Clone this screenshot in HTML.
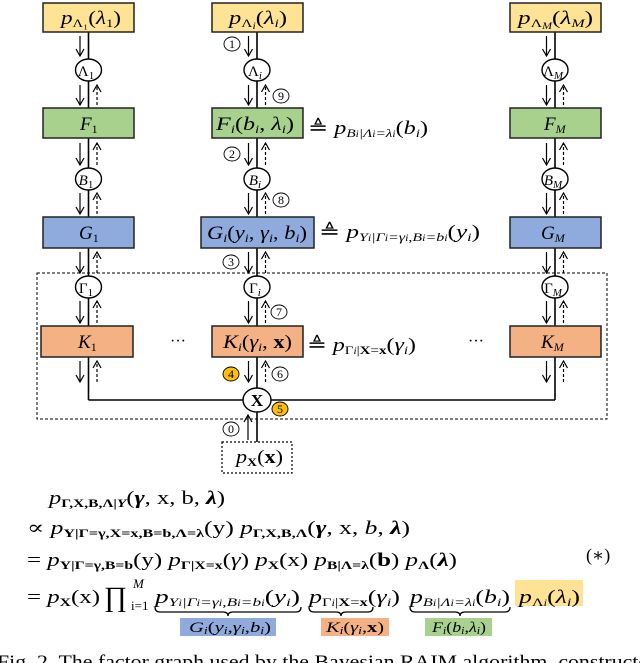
<!DOCTYPE html>
<html><head><meta charset="utf-8"><style>
html,body{margin:0;padding:0;background:#fff;}
svg{display:block;font-family:"Liberation Serif","DejaVu Serif",serif;}
.it{font-style:italic}
.b{font-weight:bold;font-style:normal}
</style></head><body>
<svg width="640" height="663" viewBox="0 0 640 663" xmlns="http://www.w3.org/2000/svg">
<defs>
<marker id="a" markerWidth="10" markerHeight="10" refX="9" refY="5" orient="auto-start-reverse" markerUnits="userSpaceOnUse" viewBox="0 0 10 10"><path d="M2,1 L9,5 L2,9" fill="none" stroke="#000" stroke-width="1.2"/></marker>
</defs>
<g stroke="#000" stroke-width="1.6" fill="none">
<line x1="88.5" y1="32" x2="88.5" y2="400"/>
<line x1="257" y1="32" x2="257" y2="442"/>
<line x1="555" y1="32" x2="555" y2="400"/>
<line x1="88.5" y1="400" x2="555" y2="400"/>
</g>
<rect x="37" y="273" width="570" height="146" fill="none" stroke="#000" stroke-width="1" stroke-dasharray="3,2"/>
<g stroke="#222" stroke-width="1.5">
<rect x="43" y="3" width="91" height="29" fill="#FFE394"/>
<rect x="212" y="3" width="91" height="29" fill="#FFE394"/>
<rect x="510" y="3" width="91" height="29" fill="#FFE394"/>
<rect x="43" y="108" width="91" height="30" fill="#A9D18E"/>
<rect x="212" y="108" width="91" height="30" fill="#A9D18E"/>
<rect x="510" y="108" width="91" height="30" fill="#A9D18E"/>
<rect x="43" y="217" width="91" height="31" fill="#8FAADC"/>
<rect x="201" y="217" width="113" height="31" fill="#8FAADC"/>
<rect x="510" y="217" width="91" height="31" fill="#8FAADC"/>
<rect x="41" y="326" width="92" height="31" fill="#F4B183"/>
<rect x="212" y="326" width="91" height="31" fill="#F4B183"/>
<rect x="510" y="326" width="91" height="31" fill="#F4B183"/>
</g>
<rect x="222" y="442" width="70" height="31" fill="#fff" stroke="#000" stroke-width="1.2" stroke-dasharray="2,2"/>
<g fill="#fff" stroke="#000" stroke-width="1.4">
<ellipse cx="88.5" cy="70" rx="13" ry="11"/><ellipse cx="257" cy="70" rx="13" ry="11"/><ellipse cx="555" cy="70" rx="13" ry="11"/>
<ellipse cx="88.5" cy="179" rx="13" ry="11"/><ellipse cx="257" cy="179" rx="13" ry="11"/><ellipse cx="555" cy="179" rx="13" ry="11"/>
<ellipse cx="88.5" cy="287" rx="13" ry="11"/><ellipse cx="257" cy="287" rx="13" ry="11"/><ellipse cx="555" cy="287" rx="13" ry="11"/>
<ellipse cx="257" cy="400" rx="14" ry="12"/>
</g>
<g stroke="#000" stroke-width="1.2" fill="none">
<g id="c1">
<line x1="80" y1="36" x2="80" y2="56" marker-end="url(#a)"/>
<line x1="80" y1="85" x2="80" y2="105" marker-end="url(#a)"/>
<line x1="97" y1="105" x2="97" y2="85" marker-end="url(#a)" stroke-dasharray="3,2"/>
<line x1="80" y1="143" x2="80" y2="165" marker-end="url(#a)"/>
<line x1="97" y1="165" x2="97" y2="143" marker-end="url(#a)" stroke-dasharray="3,2"/>
<line x1="80" y1="193" x2="80" y2="214" marker-end="url(#a)"/>
<line x1="97" y1="214" x2="97" y2="193" marker-end="url(#a)" stroke-dasharray="3,2"/>
<line x1="80" y1="252" x2="80" y2="273" marker-end="url(#a)"/>
<line x1="97" y1="273" x2="97" y2="252" marker-end="url(#a)" stroke-dasharray="3,2"/>
<line x1="80" y1="301" x2="80" y2="323" marker-end="url(#a)"/>
<line x1="97" y1="323" x2="97" y2="301" marker-end="url(#a)" stroke-dasharray="3,2"/>
<line x1="80" y1="361" x2="80" y2="382" marker-end="url(#a)"/>
<line x1="97" y1="382" x2="97" y2="361" marker-end="url(#a)" stroke-dasharray="3,2"/>
</g>
<use href="#c1" x="168.5"/>
<use href="#c1" x="466.5"/>
<line x1="248" y1="440" x2="248" y2="415" marker-end="url(#a)"/>
</g>
<g stroke="#000" stroke-width="0.9" fill="#fff">
<ellipse cx="232" cy="44" rx="8" ry="7"/><ellipse cx="281" cy="96" rx="8" ry="7"/>
<ellipse cx="232" cy="154" rx="8" ry="7"/><ellipse cx="281" cy="200" rx="8" ry="7"/>
<ellipse cx="231" cy="262" rx="8" ry="7"/><ellipse cx="279" cy="312" rx="8" ry="7"/>
<ellipse cx="231" cy="374" rx="8" ry="7" fill="#FFC000"/><ellipse cx="280" cy="374" rx="8" ry="7"/>
<ellipse cx="280" cy="409" rx="8" ry="7" fill="#FFC000"/><ellipse cx="231" cy="429" rx="8" ry="7"/>
</g>
<g font-size="12" text-anchor="middle">
<text x="232" y="48">1</text><text x="281" y="100">9</text><text x="232" y="158">2</text><text x="281" y="204">8</text>
<text x="231" y="266">3</text><text x="279" y="316">7</text><text x="231" y="378">4</text><text x="280" y="378">6</text>
<text x="280" y="413">5</text><text x="231" y="433">0</text>
</g>
<!-- node labels -->
<g font-size="19">
<text x="61" y="24" textLength="60" lengthAdjust="spacingAndGlyphs"><tspan class="it">p</tspan><tspan font-size="12" dy="3">Λ₁</tspan><tspan dy="-3">(</tspan><tspan class="it">λ</tspan><tspan font-size="12" dy="3">1</tspan><tspan dy="-3">)</tspan></text>
<text x="229" y="24" textLength="58" lengthAdjust="spacingAndGlyphs"><tspan class="it">p</tspan><tspan font-size="12" dy="3">Λ</tspan><tspan font-size="9" class="it" dy="2">i</tspan><tspan dy="-5">(</tspan><tspan class="it">λ</tspan><tspan font-size="12" class="it" dy="3">i</tspan><tspan dy="-3">)</tspan></text>
<text x="518" y="24" textLength="75" lengthAdjust="spacingAndGlyphs"><tspan class="it">p</tspan><tspan font-size="12" dy="3">Λ</tspan><tspan font-size="9" class="it" dy="2">M</tspan><tspan dy="-5">(</tspan><tspan class="it">λ</tspan><tspan font-size="12" class="it" dy="3">M</tspan><tspan dy="-3">)</tspan></text>
<text x="80" y="130"><tspan class="it">F</tspan><tspan font-size="12" dy="3">1</tspan></text>
<text x="216" y="130" textLength="78" lengthAdjust="spacingAndGlyphs"><tspan class="it">F</tspan><tspan font-size="12" class="it" dy="3">i</tspan><tspan dy="-3">(</tspan><tspan class="it">b</tspan><tspan font-size="12" class="it" dy="3">i</tspan><tspan dy="-3">, </tspan><tspan class="it">λ</tspan><tspan font-size="12" class="it" dy="3">i</tspan><tspan dy="-3">)</tspan></text>
<text x="544" y="130"><tspan class="it">F</tspan><tspan font-size="12" class="it" dy="3">M</tspan></text>
<text x="79" y="239"><tspan class="it">G</tspan><tspan font-size="12" dy="3">1</tspan></text>
<text x="207" y="239" textLength="100" lengthAdjust="spacingAndGlyphs"><tspan class="it">G</tspan><tspan font-size="12" class="it" dy="3">i</tspan><tspan dy="-3">(</tspan><tspan class="it">y</tspan><tspan font-size="12" class="it" dy="3">i</tspan><tspan dy="-3">, </tspan><tspan class="it">γ</tspan><tspan font-size="12" class="it" dy="3">i</tspan><tspan dy="-3">, </tspan><tspan class="it">b</tspan><tspan font-size="12" class="it" dy="3">i</tspan><tspan dy="-3">)</tspan></text>
<text x="541" y="239"><tspan class="it">G</tspan><tspan font-size="12" class="it" dy="3">M</tspan></text>
<text x="78" y="348"><tspan class="it">K</tspan><tspan font-size="12" dy="3">1</tspan></text>
<text x="223" y="348" textLength="69" lengthAdjust="spacingAndGlyphs"><tspan class="it">K</tspan><tspan font-size="12" class="it" dy="3">i</tspan><tspan dy="-3">(</tspan><tspan class="it">γ</tspan><tspan font-size="12" class="it" dy="3">i</tspan><tspan dy="-3">, </tspan><tspan class="b">x</tspan>)</text>
<text x="541" y="348"><tspan class="it">K</tspan><tspan font-size="12" class="it" dy="3">M</tspan></text>
<text x="236" y="463" textLength="47" lengthAdjust="spacingAndGlyphs"><tspan class="it">p</tspan><tspan font-size="12" class="b" dy="3">X</tspan><tspan dy="-3">(</tspan><tspan class="b">x</tspan>)</text>
</g>
<g font-size="15" text-anchor="middle">
<text x="86" y="76">Λ<tspan font-size="11" dy="3">1</tspan></text>
<text x="255" y="76">Λ<tspan font-size="11" class="it" dy="3">i</tspan></text>
<text x="553" y="76">Λ<tspan font-size="11" class="it" dy="3">M</tspan></text>
<text x="86" y="185" class="it">B<tspan font-size="11" font-style="normal" dy="3">1</tspan></text>
<text x="255" y="185" class="it">B<tspan font-size="11" dy="3">i</tspan></text>
<text x="553" y="185" class="it">B<tspan font-size="11" dy="3">M</tspan></text>
<text x="86" y="293">Γ<tspan font-size="11" dy="3">1</tspan></text>
<text x="255" y="293">Γ<tspan font-size="11" class="it" dy="3">i</tspan></text>
<text x="553" y="293">Γ<tspan font-size="11" class="it" dy="3">M</tspan></text>
<text x="257" y="406" font-weight="bold" font-size="17">X</text>
</g>
<g font-size="16"><text x="170" y="346">···</text><text x="468" y="346">···</text></g>
<!-- side definitions -->
<g font-size="19">
<text x="308" y="134" textLength="120" lengthAdjust="spacingAndGlyphs">≜ <tspan class="it">p</tspan><tspan font-size="12" class="it" dy="3">B<tspan font-size="9">i</tspan>|Λ<tspan font-size="9">i</tspan>=λ<tspan font-size="9">i</tspan></tspan><tspan dy="-3">(</tspan><tspan class="it">b</tspan><tspan font-size="12" class="it" dy="3">i</tspan><tspan dy="-3">)</tspan></text>
<text x="319" y="238" textLength="161" lengthAdjust="spacingAndGlyphs">≜ <tspan class="it">p</tspan><tspan font-size="12" class="it" dy="3">Y<tspan font-size="9">i</tspan>|Γ<tspan font-size="9">i</tspan>=γ<tspan font-size="9">i</tspan>,B<tspan font-size="9">i</tspan>=b<tspan font-size="9">i</tspan></tspan><tspan dy="-3">(</tspan><tspan class="it">y</tspan><tspan font-size="12" class="it" dy="3">i</tspan><tspan dy="-3">)</tspan></text>
<text x="307" y="351" textLength="109" lengthAdjust="spacingAndGlyphs">≜ <tspan class="it">p</tspan><tspan font-size="12" dy="3">Γ<tspan font-size="9" class="it">i</tspan>|<tspan font-weight="bold">X</tspan>=<tspan font-weight="bold">x</tspan></tspan><tspan dy="-3">(</tspan><tspan class="it">γ</tspan><tspan font-size="12" class="it" dy="3">i</tspan><tspan dy="-3">)</tspan></text>
</g>
<!-- equations -->
<g font-size="19">
<text x="49" y="504" textLength="176" lengthAdjust="spacingAndGlyphs"><tspan class="it">p</tspan><tspan font-size="12" font-weight="bold" dy="3">Γ,X,B,Λ|<tspan class="it">Y</tspan></tspan><tspan dy="-3">(</tspan><tspan font-weight="bold" class="it">γ</tspan>, x, b, <tspan font-weight="bold" class="it">λ</tspan>)</text>
<text x="27" y="534" textLength="383" lengthAdjust="spacingAndGlyphs">∝ <tspan class="it">p</tspan><tspan font-size="12" font-weight="bold" dy="3">Y|Γ=γ,X=x,B=b,Λ=λ</tspan><tspan dy="-3">(y) </tspan><tspan class="it">p</tspan><tspan font-size="12" font-weight="bold" dy="3">Γ,X,B,Λ</tspan><tspan dy="-3">(</tspan><tspan font-weight="bold" class="it">γ</tspan>, x, <tspan class="it">b</tspan>, <tspan font-weight="bold" class="it">λ</tspan>)</text>
<text x="27" y="566" textLength="430" lengthAdjust="spacingAndGlyphs">= <tspan class="it">p</tspan><tspan font-size="12" font-weight="bold" dy="3">Y|Γ=γ,B=b</tspan><tspan dy="-3">(y) </tspan><tspan class="it">p</tspan><tspan font-size="12" font-weight="bold" dy="3">Γ|X=x</tspan><tspan dy="-3">(</tspan><tspan class="it">γ</tspan>) <tspan class="it">p</tspan><tspan font-size="12" font-weight="bold" dy="3">X</tspan><tspan dy="-3">(x) </tspan><tspan class="it">p</tspan><tspan font-size="12" font-weight="bold" dy="3">B|Λ=λ</tspan><tspan dy="-3">(</tspan><tspan font-weight="bold">b</tspan>) <tspan class="it">p</tspan><tspan font-size="12" font-weight="bold" dy="3">Λ</tspan><tspan dy="-3">(</tspan><tspan font-weight="bold" class="it">λ</tspan>)</text>
<text x="586" y="561" font-size="18">(∗)</text>
<rect x="515" y="580" width="68" height="26" fill="#FFE394"/>
<text x="27" y="603" textLength="73" lengthAdjust="spacingAndGlyphs">= <tspan class="it">p</tspan><tspan font-size="12" font-weight="bold" dy="3">X</tspan><tspan dy="-3">(x)</tspan></text>
<text x="104" y="606" font-size="28">∏</text>
<text x="133" y="588" font-size="13" class="it">M</text>
<text x="131" y="610" font-size="13">i=1</text>
<text x="155" y="603" textLength="145" lengthAdjust="spacingAndGlyphs"><tspan class="it">p</tspan><tspan font-size="12" class="it" dy="3">Y<tspan font-size="9">i</tspan>|Γ<tspan font-size="9">i</tspan>=γ<tspan font-size="9">i</tspan>,B<tspan font-size="9">i</tspan>=b<tspan font-size="9">i</tspan></tspan><tspan dy="-3">(</tspan><tspan class="it">y</tspan><tspan font-size="12" class="it" dy="3">i</tspan><tspan dy="-3">)</tspan></text>
<text x="309" y="603" textLength="91" lengthAdjust="spacingAndGlyphs"><tspan class="it">p</tspan><tspan font-size="12" dy="3">Γ<tspan font-size="9" class="it">i</tspan>|<tspan font-weight="bold">X</tspan>=<tspan font-weight="bold">x</tspan></tspan><tspan dy="-3">(</tspan><tspan class="it">γ</tspan><tspan font-size="12" class="it" dy="3">i</tspan><tspan dy="-3">)</tspan></text>
<text x="410" y="603" textLength="100" lengthAdjust="spacingAndGlyphs"><tspan class="it">p</tspan><tspan font-size="12" class="it" dy="3">B<tspan font-size="9">i</tspan>|Λ<tspan font-size="9">i</tspan>=λ<tspan font-size="9">i</tspan></tspan><tspan dy="-3">(</tspan><tspan class="it">b</tspan><tspan font-size="12" class="it" dy="3">i</tspan><tspan dy="-3">)</tspan></text>
<text x="519" y="603" textLength="61" lengthAdjust="spacingAndGlyphs"><tspan class="it">p</tspan><tspan font-size="12" dy="3">Λ<tspan font-size="9" class="it">i</tspan></tspan><tspan dy="-3">(</tspan><tspan class="it">λ</tspan><tspan font-size="12" class="it" dy="3">i</tspan><tspan dy="-3">)</tspan></text>
</g>
<g stroke="#000" stroke-width="1.3" fill="none">
<path d="M155,607 q0,5 5,5 h63 q5,0 5,4 q0,-4 5,-4 h63 q5,0 5,-5"/>
<path d="M309,607 q0,5 5,5 h22 q5,0 5,4 q0,-4 5,-4 h22 q5,0 5,-5"/>
<path d="M410,607 q0,5 5,5 h40 q5,0 5,4 q0,-4 5,-4 h40 q5,0 5,-5"/>
</g>
<rect x="180" y="618" width="96" height="18" fill="#8FAADC"/>
<rect x="321" y="618" width="68" height="18" fill="#F4B183"/>
<rect x="425" y="618" width="67" height="18" fill="#A9D18E"/>
<g font-size="15">
<text x="189" y="632" textLength="82" lengthAdjust="spacingAndGlyphs"><tspan class="it">G</tspan><tspan font-size="10" class="it" dy="2">i</tspan><tspan dy="-2">(</tspan><tspan class="it">y</tspan><tspan font-size="10" class="it" dy="2">i</tspan><tspan dy="-2">,</tspan><tspan class="it">γ</tspan><tspan font-size="10" class="it" dy="2">i</tspan><tspan dy="-2">,</tspan><tspan class="it">b</tspan><tspan font-size="10" class="it" dy="2">i</tspan><tspan dy="-2">)</tspan></text>
<text x="326" y="632" textLength="58" lengthAdjust="spacingAndGlyphs"><tspan class="it">K</tspan><tspan font-size="10" class="it" dy="2">i</tspan><tspan dy="-2">(</tspan><tspan class="it">γ</tspan><tspan font-size="10" class="it" dy="2">i</tspan><tspan dy="-2">,</tspan><tspan font-weight="bold">x</tspan>)</text>
<text x="432" y="632" textLength="54" lengthAdjust="spacingAndGlyphs"><tspan class="it">F</tspan><tspan font-size="10" class="it" dy="2">i</tspan><tspan dy="-2">(</tspan><tspan class="it">b</tspan><tspan font-size="10" class="it" dy="2">i</tspan><tspan dy="-2">,</tspan><tspan class="it">λ</tspan><tspan font-size="10" class="it" dy="2">i</tspan><tspan dy="-2">)</tspan></text>
</g>
<text x="-3" y="668" font-size="19" textLength="662" lengthAdjust="spacingAndGlyphs">Fig. 2.  The factor graph used by the Bayesian RAIM algorithm, constructed</text>
</svg>
</body></html>
